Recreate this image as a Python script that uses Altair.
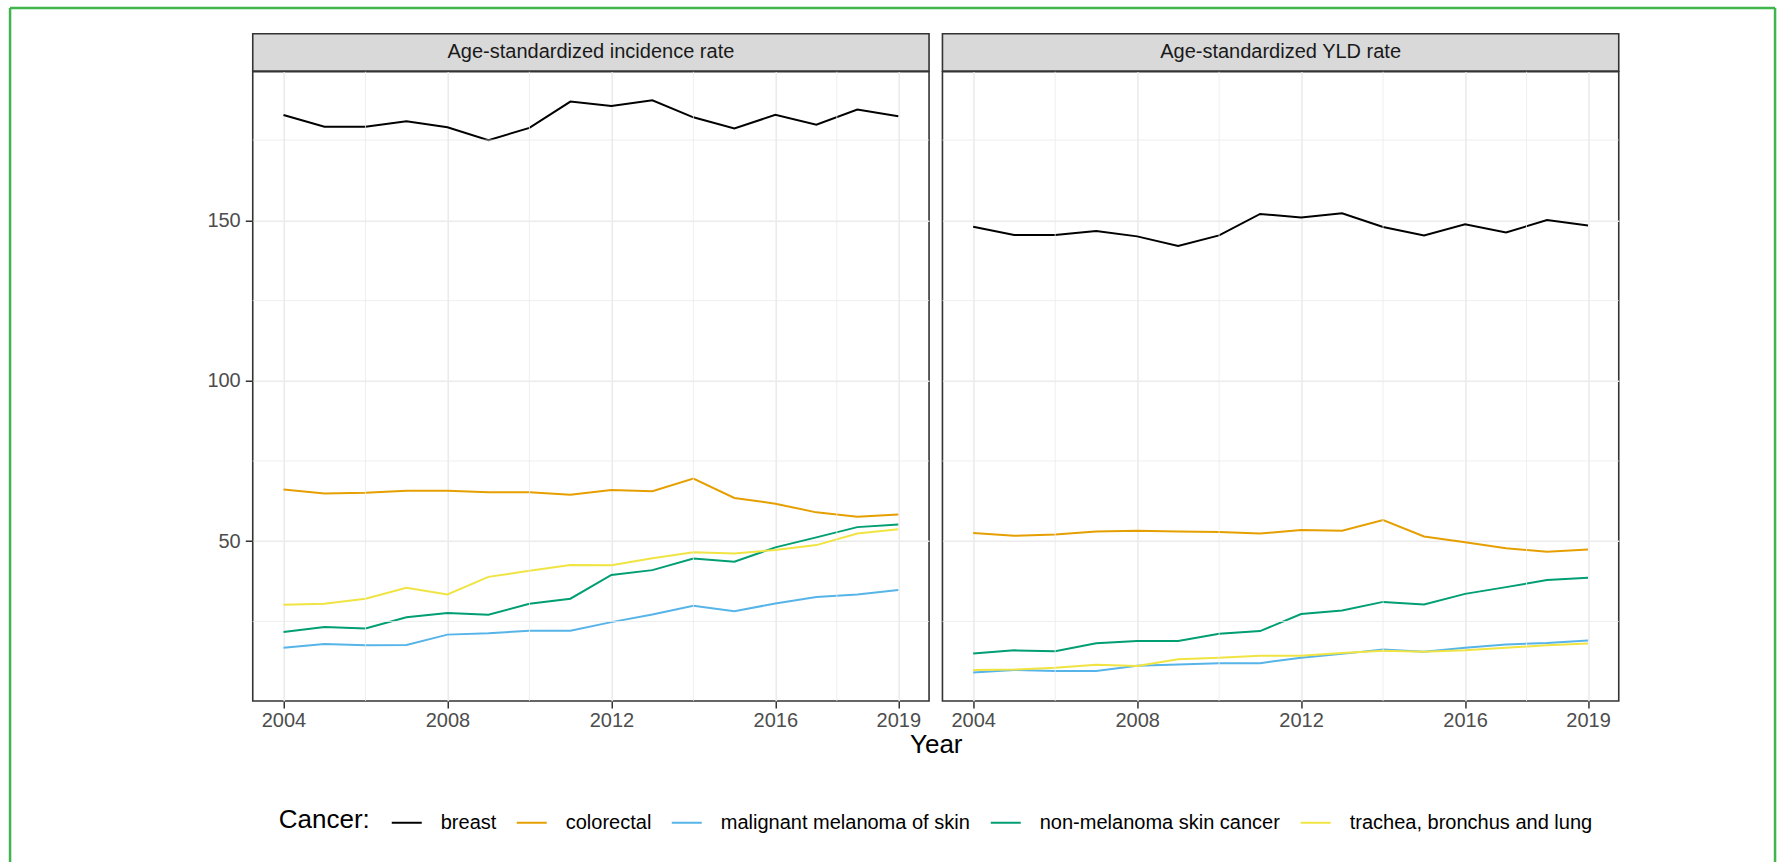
import altair as alt
import pandas as pd

FONT = "Liberation Sans, Arial, sans-serif"

years = list(range(2004, 2020))
cancers = [
    "breast",
    "colorectal",
    "malignant melanoma of skin",
    "non-melanoma skin cancer",
    "trachea, bronchus and lung",
]
colors = ["#000000", "#E69F00", "#56B4E9", "#009E73", "#F0E442"]
panels = ["Age-standardized incidence rate", "Age-standardized YLD rate"]

# Age-standardized incidence rate (per 100,000)
inc_breast = [182.8, 179.2, 179.2, 180.9, 179.0, 175.0, 178.8, 187.0,
              185.6, 187.4, 182.1, 178.6, 182.9, 179.8, 184.5, 182.4]
inc_colorectal = [66.1, 64.9, 65.1, 65.7, 65.7, 65.3, 65.3, 64.5,
                  66.0, 65.6, 69.5, 63.5, 61.7, 59.0, 57.6, 58.3]
inc_melanoma = [16.8, 18.0, 17.6, 17.7, 20.9, 21.3, 22.1, 22.1,
                24.8, 27.2, 29.9, 28.2, 30.6, 32.6, 33.4, 34.8]
inc_nonmelanoma = [21.7, 23.3, 22.8, 26.3, 27.6, 27.1, 30.5, 32.1,
                   39.5, 41.0, 44.6, 43.6, 48.1, 51.2, 54.4, 55.2]
inc_lung = [30.2, 30.5, 32.1, 35.5, 33.4, 38.9, 40.8, 42.6,
            42.5, 44.7, 46.6, 46.2, 47.3, 48.8, 52.4, 53.7]

# Age-standardized YLD rate (per 100,000)
yld_breast = [148.0, 145.4, 145.4, 146.7, 145.0, 142.0, 145.3, 152.0,
              150.9, 152.2, 147.9, 145.3, 148.8, 146.2, 150.1, 148.4]
yld_colorectal = [52.6, 51.7, 52.1, 53.0, 53.3, 53.0, 52.9, 52.4,
                  53.5, 53.3, 56.6, 51.5, 49.7, 47.8, 46.7, 47.4]
yld_melanoma = [9.1, 9.9, 9.6, 9.6, 11.2, 11.6, 12.0, 12.0,
                13.7, 14.9, 16.3, 15.6, 16.8, 17.8, 18.3, 19.1]
yld_nonmelanoma = [15.0, 16.0, 15.7, 18.2, 18.9, 18.9, 21.2, 22.0,
                   27.3, 28.4, 31.1, 30.3, 33.6, 35.7, 37.9, 38.6]
yld_lung = [9.9, 10.0, 10.6, 11.5, 11.1, 13.2, 13.7, 14.3,
            14.3, 15.2, 15.9, 15.6, 16.0, 16.8, 17.6, 18.1]

x_breaks = [2004, 2008, 2012, 2016, 2019]
x_minor = [2006, 2010, 2014, 2017.5]
y_breaks = [50, 100, 150]
y_minor = [25, 75, 125, 175]

series = {
    panels[0]: [inc_breast, inc_colorectal, inc_melanoma, inc_nonmelanoma, inc_lung],
    panels[1]: [yld_breast, yld_colorectal, yld_melanoma, yld_nonmelanoma, yld_lung],
}
rows = []
for measure, lists in series.items():
    for cancer, values in zip(cancers, lists):
        for yr, v in zip(years, values):
            rows.append({"measure": measure, "cancer": cancer, "year": yr, "value": v})
long_df = pd.DataFrame(rows)

W = 676.3
H = 629.3
SH = 37.4
BORDER = "#333333"
GRID = "#EBEBEB"

x_scale = alt.Scale(domain=[2003.25, 2019.75], nice=False, zero=False)
y_scale = alt.Scale(domain=[0.2, 196.3], nice=False, zero=False)

legend = alt.Legend(
    title="Cancer:",
    orient="none",
    legendX=26,
    legendY=773,
    direction="horizontal",
    titleOrient="left",
    titleFontSize=26,
    titleFontWeight="normal",
    titleColor="#000000",
    titleFont=FONT,
    titlePadding=20,
    titleBaseline="middle",
    labelFontSize=20,
    labelColor="#000000",
    labelFont=FONT,
    labelLimit=0,
    labelOffset=18,
    columnPadding=16,
    symbolType="stroke",
    symbolSize=900,
    symbolStrokeWidth=2,
)


def make_plot(measure, first):
    data = long_df[long_df["measure"] == measure]

    x_axis = alt.Axis(
        values=x_breaks, format="d", grid=True, gridColor=GRID, gridWidth=1.6,
        domain=False, tickColor=BORDER, tickSize=7, tickWidth=1.5,
        labelFontSize=20, labelColor="#4D4D4D", labelFont=FONT, labelPadding=2,
        labelFlush=False, labelOverlap=False,
        titleX=683, titleY=43, titleBaseline="middle", titleAlign="center",
        titleFontSize=26, titleFontWeight="normal", titleColor="#000000", titleFont=FONT,
    )
    if first:
        y_axis = alt.Axis(
            values=y_breaks, grid=True, gridColor=GRID, gridWidth=1.6, domain=False,
            tickColor=BORDER, tickSize=7.5, tickWidth=1.5,
            labelFontSize=20, labelColor="#4D4D4D", labelFont=FONT, labelPadding=5,
        )
    else:
        y_axis = alt.Axis(
            values=y_breaks, grid=True, gridColor=GRID, gridWidth=1.6, domain=False,
            ticks=False, labels=False,
        )

    lines = alt.Chart(data).mark_line(strokeWidth=2).encode(
        x=alt.X("year:Q", scale=x_scale, axis=x_axis, title="Year" if first else ""),
        y=alt.Y("value:Q", scale=y_scale, axis=y_axis, title=""),
        color=alt.Color("cancer:N", scale=alt.Scale(domain=cancers, range=colors), legend=legend),
    )
    vminor = alt.Chart(pd.DataFrame({"year": x_minor})).mark_rule(
        color=GRID, strokeWidth=0.8
    ).encode(x=alt.X("year:Q", scale=x_scale))
    hminor = alt.Chart(pd.DataFrame({"value": y_minor})).mark_rule(
        color=GRID, strokeWidth=0.8
    ).encode(y=alt.Y("value:Q", scale=y_scale))

    layers = [lines, vminor, hminor]
    if first:
        # green frame around the whole figure
        dummy = pd.DataFrame({"f": [0]})
        green = "#3FB54B"
        frame_left = alt.Chart(dummy).mark_rule(color=green, strokeWidth=2.5).encode(
            x=alt.value(-242.7), x2=alt.value(-242.7), y=alt.value(-63.7), y2=alt.value(791.3))
        frame_right = alt.Chart(dummy).mark_rule(color=green, strokeWidth=2.5).encode(
            x=alt.value(1522.3), x2=alt.value(1522.3), y=alt.value(-63.7), y2=alt.value(791.3))
        frame_top = alt.Chart(dummy).mark_rule(color=green, strokeWidth=2.5).encode(
            x=alt.value(-242.7), x2=alt.value(1522.3), y=alt.value(-63.7), y2=alt.value(-63.7))
        layers += [frame_left, frame_right, frame_top]

    return alt.layer(*layers).properties(
        width=W, height=H,
        view=alt.ViewBackground(stroke=BORDER, strokeWidth=1.6),
    )


def make_strip(measure):
    return alt.Chart(pd.DataFrame({"panel": [measure]})).mark_text(
        fontSize=20, color="#1A1A1A", font=FONT
    ).encode(
        text="panel:N", x=alt.value(W / 2), y=alt.value(SH / 2)
    ).properties(
        width=W, height=SH,
        view=alt.ViewBackground(fill="#D9D9D9", stroke=BORDER, strokeWidth=1.6),
    )


chart = alt.concat(
    make_strip(panels[0]),
    make_strip(panels[1]),
    make_plot(panels[0], True),
    make_plot(panels[1], False),
    columns=2,
    spacing={"row": 0, "column": 12.7},
    bounds="flush",
).properties(
    padding={"left": 7.75, "top": 5.75, "right": 0, "bottom": 0},
    background="white",
).configure(font=FONT)

chart.save("out.html", embed_options={"renderer": "svg", "actions": False})
